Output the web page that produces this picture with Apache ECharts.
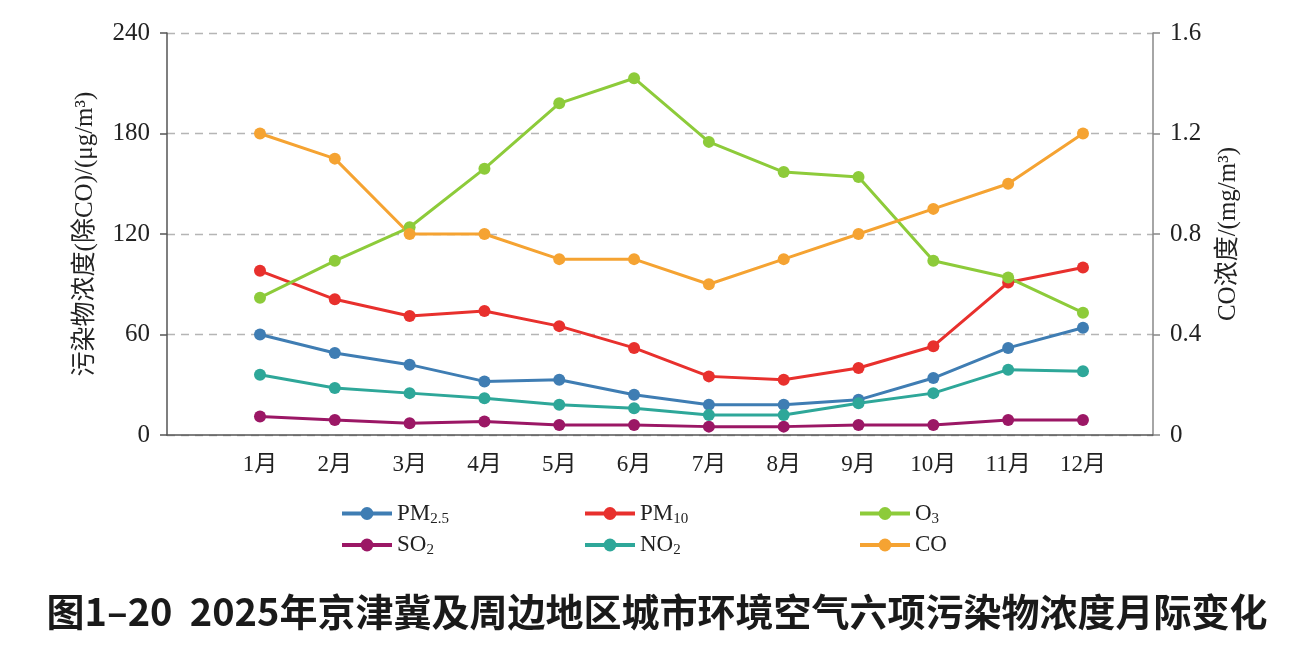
<!DOCTYPE html>
<html>
<head>
<meta charset="utf-8">
<script src="https://cdn.jsdelivr.net/npm/echarts@6/dist/echarts.min.js"></script>
<style>
html,body{margin:0;padding:0;background:#fff;}
#main{width:1314px;height:658px;}
</style>
</head>
<body>
<div id="main"></div>
<script>
const months = ['1月','2月','3月','4月','5月','6月','7月','8月','9月','10月','11月','12月'];
const pm25 = [60, 49, 42, 32, 33, 24, 18, 18, 21, 34, 52, 64];
const pm10 = [98, 81, 71, 74, 65, 52, 35, 33, 40, 53, 91, 100];
const o3   = [82, 104, 124, 159, 198, 213, 175, 157, 154, 104, 94, 73];
const so2  = [11, 9, 7, 8, 6, 6, 5, 5, 6, 6, 9, 9];
const no2  = [36, 28, 25, 22, 18, 16, 12, 12, 19, 25, 39, 38];
const co   = [1.2, 1.1, 0.8, 0.8, 0.7, 0.7, 0.6, 0.7, 0.8, 0.9, 1.0, 1.2];

const colors = {
  'PM2.5': '#3f7db3',
  'PM10': '#e8302d',
  'O3': '#8dcb3a',
  'SO2': '#9b1765',
  'NO2': '#2ea799',
  'CO': '#f5a332'
};
const labelRich = {
  a: {fontSize: 23, fontFamily: 'Liberation Serif', color: '#222', lineHeight: 26},
  s: {fontSize: 15, fontFamily: 'Liberation Serif', color: '#222', lineHeight: 15, verticalAlign: 'bottom'}
};
const legendFmt = function (name) {
  const m = {
    'PM2.5': '{a|PM}{s|2.5}',
    'PM10': '{a|PM}{s|10}',
    'O3': '{a|O}{s|3}',
    'SO2': '{a|SO}{s|2}',
    'NO2': '{a|NO}{s|2}',
    'CO': '{a|CO}'
  };
  return m[name];
};
function toXY(arr) { return arr.map((v, i) => [i + 1, v]); }
function mkSeries(name, arr, yIdx) {
  return {
    name: name, type: 'line', yAxisIndex: yIdx || 0,
    data: toXY(arr), symbol: 'circle', symbolSize: 12,
    lineStyle: {width: 3, color: colors[name]},
    itemStyle: {color: colors[name]},
    emphasis: {disabled: true}
  };
}
function mkLegend(left, names) {
  return {
    orient: 'vertical', left: left, top: 497, itemGap: 7,
    itemWidth: 50, itemHeight: 16,
    data: names, formatter: legendFmt,
    lineStyle: {width: 4},
    textStyle: {rich: labelRich}
  };
}
const chart = echarts.init(document.getElementById('main'));
chart.setOption({
  backgroundColor: '#fff',
  animation: false,
  title: {
    text: '图1–20  2025年京津冀及周边地区城市环境空气六项污染物浓度月际变化',
    left: 'center', top: 588,
    textStyle: {fontFamily: 'Noto Sans CJK SC', fontWeight: 'bold', fontSize: 38, color: '#1a1a1a'}
  },
  grid: {left: 167, right: 161, top: 33, bottom: 223, outerBoundsMode: 'none', containLabel: false},
  legend: [
    mkLegend(335, ['PM2.5', 'SO2']),
    mkLegend(578, ['PM10', 'NO2']),
    mkLegend(853, ['O3', 'CO'])
  ],
  xAxis: {
    type: 'value', min: -0.243, max: 12.936,
    axisLine: {show: true, onZero: false, lineStyle: {color: '#555', width: 1.5}},
    axisTick: {show: false},
    splitLine: {show: false},
    axisLabel: {
      customValues: [1,2,3,4,5,6,7,8,9,10,11,12],
      formatter: v => months[Math.round(v) - 1],
      fontSize: 23, fontFamily: 'Liberation Serif, Noto Sans CJK SC', color: '#222', margin: 18
    }
  },
  yAxis: [
    {
      type: 'value', min: 0, max: 240, interval: 60, position: 'left',
      name: '污染物浓度(除CO)/(μg/m³)', nameLocation: 'middle', nameGap: 69, nameRotate: 90,
      nameMoveOverlap: false,
      nameTextStyle: {fontSize: 25, fontFamily: 'Liberation Serif, Noto Sans CJK SC', color: '#222'},
      axisLine: {show: true, onZero: false, lineStyle: {color: '#555', width: 1.5}},
      axisTick: {show: true, length: 7, lineStyle: {color: '#555', width: 1.5}},
      axisLabel: {fontSize: 25, fontFamily: 'Liberation Serif', color: '#222', margin: 17},
      splitLine: {show: true, lineStyle: {color: '#b5b5b5', width: 1.3, type: [8, 6]}}
    },
    {
      type: 'value', min: 0, max: 1.6, interval: 0.4, position: 'right',
      name: 'CO浓度/(mg/m³)', nameLocation: 'middle', nameGap: 63, nameRotate: 90,
      nameMoveOverlap: false,
      nameTextStyle: {fontSize: 25, fontFamily: 'Liberation Serif, Noto Sans CJK SC', color: '#222'},
      axisLine: {show: true, onZero: false, lineStyle: {color: '#888', width: 1.5}},
      axisTick: {show: true, length: 7, lineStyle: {color: '#888', width: 1.5}},
      axisLabel: {fontSize: 25, fontFamily: 'Liberation Serif', color: '#222', margin: 17,
        formatter: v => v === 0 ? '0' : v.toFixed(1)},
      splitLine: {show: false}
    }
  ],
  series: [
    mkSeries('PM2.5', pm25),
    mkSeries('PM10', pm10),
    mkSeries('O3', o3),
    mkSeries('SO2', so2),
    mkSeries('NO2', no2),
    mkSeries('CO', co, 1)
  ]
});
</script>
</body>
</html>
